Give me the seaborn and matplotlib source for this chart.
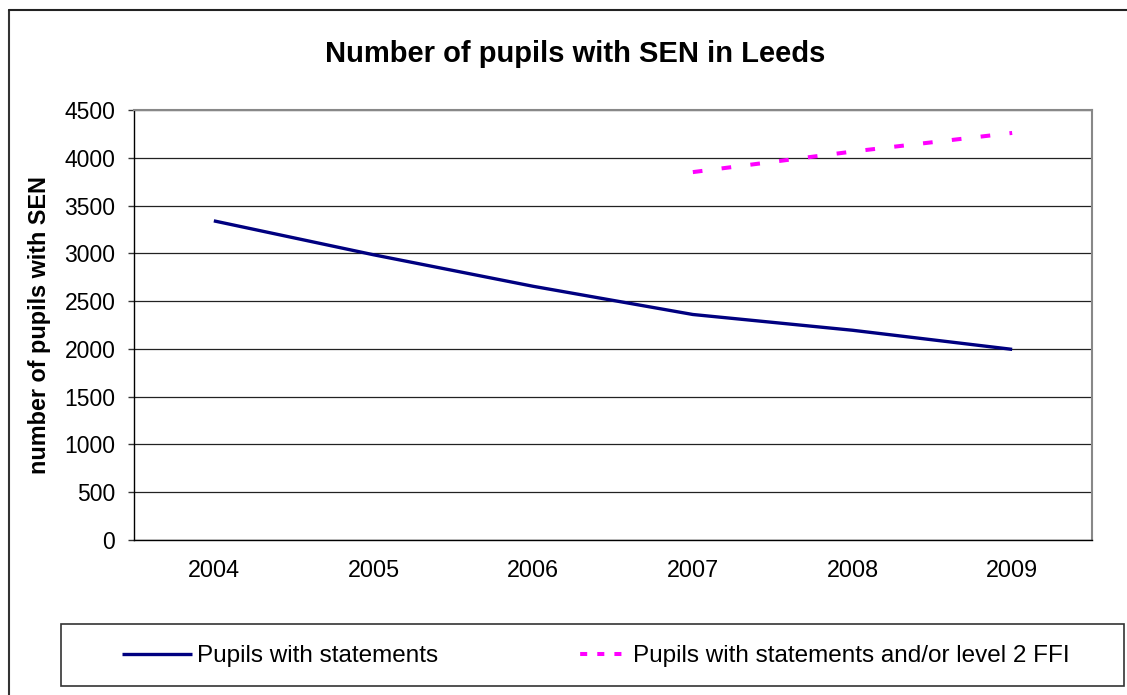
import matplotlib
matplotlib.use("Agg")
import matplotlib.pyplot as plt
from matplotlib.lines import Line2D
from matplotlib.patches import Rectangle
import numpy as np
import pandas as pd
import seaborn as sns

# Data
years = [2004, 2005, 2006, 2007, 2008, 2009]
statements = [3340, 2985, 2655, 2360, 2195, 1995]
ffi_years = [2007, 2008, 2009]
ffi = [3850, 4065, 4260]
series_names = ["Pupils with statements", "Pupils with statements and/or level 2 FFI"]
y_ticks = [0, 500, 1000, 1500, 2000, 2500, 3000, 3500, 4000, 4500]

NAVY = "#000080"
MAGENTA = "#FF00FF"

df = pd.concat([
    pd.DataFrame({"year": years, "value": statements, "series": series_names[0]}),
    pd.DataFrame({"year": ffi_years, "value": ffi, "series": series_names[1]}),
], ignore_index=True)
df["pos"] = df["year"].map({y: i for i, y in enumerate(years)})

sns.set_style("white")
plt.rcParams["font.family"] = ["Liberation Sans", "DejaVu Sans"]
plt.rcParams["text.color"] = "black"
plt.rcParams["xtick.color"] = "black"
plt.rcParams["ytick.color"] = "black"

W, H = 1127, 695
fig = plt.figure(figsize=(W / 100, H / 100), dpi=100)
ax = fig.add_axes([134 / W, 1 - 540 / H, (1092 - 134) / W, 430 / H])

sns.lineplot(
    data=df, x="pos", y="value", hue="series", style="series",
    hue_order=series_names, style_order=series_names,
    palette={series_names[0]: NAVY, series_names[1]: MAGENTA},
    dashes={series_names[0]: "", series_names[1]: (2.4, 4.8)},
    errorbar=None, legend=False, ax=ax, linewidth=2.4,
)
ax.lines[1].set_linewidth(2.9)
for ln in ax.lines:
    ln.set_solid_capstyle("butt")
    ln.set_dash_capstyle("butt")

# Axes limits and ticks
ax.set_xlim(-0.5, len(years) - 0.5)
ax.set_ylim(0, 4500)
ax.set_yticks(y_ticks)
ax.set_yticklabels([str(v) for v in y_ticks])
ax.set_xticks(range(len(years)))
ax.set_xticklabels([str(y) for y in years])
ax.set_xticks(np.arange(-0.5, len(years), 1.0), minor=True)
ax.tick_params(axis="x", which="major", length=0, pad=14, labelsize=16.8, labelcolor="black")
ax.tick_params(axis="x", which="minor", length=4.5, width=1, color="#555555", direction="out")
ax.tick_params(axis="y", which="major", length=4.5, width=1, color="#333333",
               direction="out", pad=9, labelsize=16.5, labelcolor="black", left=True)
ax.set_xlabel("")
ax.set_ylabel("")

ax.grid(axis="y", color="#222222", linewidth=0.9)
ax.grid(axis="x", visible=False)
ax.set_axisbelow(True)
for side in ["left", "bottom"]:
    ax.spines[side].set_color("black")
    ax.spines[side].set_linewidth(1.0)
for side in ["top", "right"]:
    ax.spines[side].set_color("#888888")
    ax.spines[side].set_linewidth(1.5)
    ax.spines[side].set_visible(True)

# Title and axis label
fig.text(575 / W, 1 - 62 / H, "Number of pupils with SEN in Leeds",
         ha="center", va="baseline", fontsize=21, fontweight="bold", color="black")
fig.text(40 / W, 1 - 325 / H, "number of pupils with SEN", rotation=90,
         ha="center", va="center", fontsize=16.8, fontweight="bold", color="black")

# Legend in its own box below the plot
fig.add_artist(Rectangle((61 / W, 1 - 686 / H), (1124 - 61) / W, 62 / H,
                         transform=fig.transFigure, fill=False,
                         edgecolor="#333333", linewidth=1.2))
legend_handles = [
    Line2D([], [], color=NAVY, linewidth=2.4, solid_capstyle="butt"),
    Line2D([], [], color=MAGENTA, linewidth=2.9, dash_capstyle="butt",
           linestyle=(0, (0, 5.5, 1.75, 2.5, 1.75, 2.5, 1.75, 2.5))),
]
fig.legend(legend_handles, series_names, loc="center left",
           bbox_to_anchor=(122 / W, 1 - 656 / H), ncol=2, frameon=False,
           fontsize=17.5, handlelength=2.9, handletextpad=0.2,
           columnspacing=4.9, borderpad=0, borderaxespad=0, labelcolor="black")

# Outer chart frame
fig.add_artist(Line2D([9 / W, 9 / W], [0, 1 - 10 / H], transform=fig.transFigure,
                      color="#333333", linewidth=1.5))
fig.add_artist(Line2D([9 / W, 1], [1 - 10 / H, 1 - 10 / H], transform=fig.transFigure,
                      color="#222222", linewidth=1.5))

fig.savefig("out.png", dpi=100)
